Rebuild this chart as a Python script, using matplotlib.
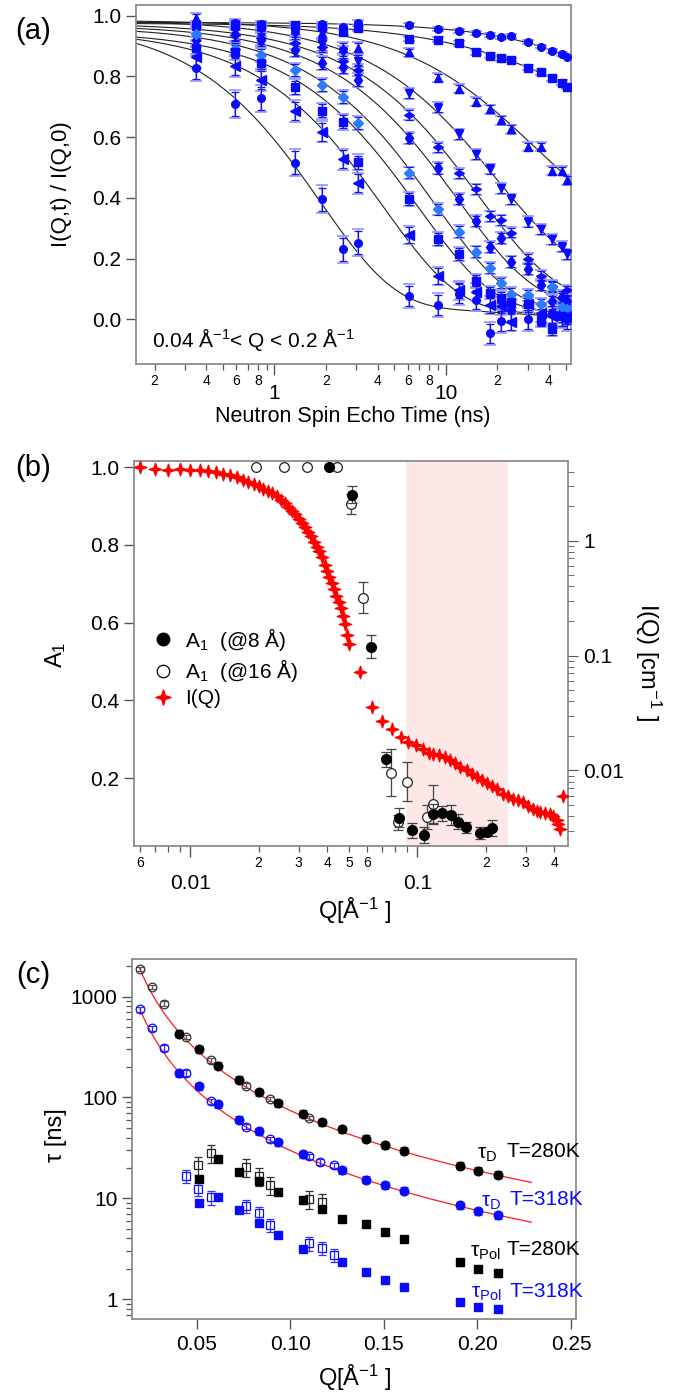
import numpy as np
import matplotlib
matplotlib.use("Agg")
import matplotlib.pyplot as plt
from matplotlib.path import Path
from matplotlib.lines import Line2D
from matplotlib.ticker import FixedLocator, FixedFormatter, FuncFormatter, LogLocator, NullFormatter

plt.rcParams['font.family'] = ['Liberation Sans', 'DejaVu Sans']
plt.rcParams['mathtext.fontset'] = 'custom'
plt.rcParams['mathtext.rm'] = 'Liberation Sans'
plt.rcParams['mathtext.it'] = 'Liberation Sans:italic'
plt.rcParams['mathtext.default'] = 'regular'

# ---------------- (a) NSE intermediate scattering functions ----------------
t_short = [0.35, 0.59, 0.83, 1.31, 1.90, 2.51, 3.09]
t_long = [6.1, 9.06, 12.0, 15.0, 18.1, 21.0, 24.0, 30.1, 35.8, 41.5, 47.9, 50.8]

nan = np.nan
iqt_q1 = [0.975, 0.977, 0.972, 0.970, 0.972, 0.964, 0.977,
          0.969, 0.955, 0.950, 0.942, 0.936, 0.928, 0.932, 0.914, 0.898, 0.884, 0.873, 0.865]
iqt_q2 = [0.965, 0.970, 0.968, 0.969, 0.962, 0.947, 0.958,
          0.923, 0.920, 0.909, 0.879, 0.868, 0.860, 0.854, 0.829, 0.813, 0.794, 0.779, 0.766]
iqt_q3 = [0.991, 0.972, 0.965, 0.955, 0.942, 0.895, 0.895,
          0.879, 0.796, 0.759, 0.717, 0.692, 0.656, 0.626, 0.569, 0.569, 0.489, 0.489, 0.459]
iqt_q4 = [0.950, 0.955, 0.955, 0.940, 0.905, 0.880, 0.851,
          0.744, 0.697, 0.610, 0.543, 0.495, 0.431, 0.396, 0.321, 0.296, 0.263, 0.239, 0.215]
iqt_q5 = [nan, 0.935, 0.925, 0.910, 0.898, 0.850, 0.821,
          0.673, 0.566, 0.481, 0.429, 0.340, 0.327, 0.285, 0.200, 0.143, 0.110, 0.070, 0.095]
iqt_q6 = [0.920, 0.940, 0.920, 0.887, 0.843, 0.832, 0.788,
          0.596, 0.497, 0.396, 0.324, 0.239, 0.267, 0.190, 0.165, 0.113, 0.060, 0.075, 0.060]
iqt_q7 = [0.940, 0.890, 0.870, 0.821, 0.772, 0.733, 0.646,
          0.483, 0.362, 0.289, 0.223, 0.168, 0.119, 0.085, 0.080, 0.050, 0.107, 0.040, 0.035]
iqt_q8 = [0.893, 0.881, 0.845, 0.764, 0.687, 0.651, 0.517,
          0.396, 0.264, 0.215, 0.127, 0.088, 0.071, 0.058, 0.050, -0.002, -0.033, 0.010, 0.005]
iqt_q9 = [0.863, 0.834, 0.788, 0.686, 0.618, 0.527, 0.448,
          0.278, 0.143, 0.095, 0.090, 0.047, 0.045, -0.008, 0.050, 0.020, 0.010, 0.005, 0.010]
iqt_q10 = [0.829, 0.709, 0.728, 0.516, 0.396, 0.231, 0.252,
           0.077, 0.047, 0.085, 0.065, -0.046, -0.006, 0.030, 0.000, 0.015, 0.020, 0.010, 0.000]

iqt_err = [0.006, 0.008, 0.015, 0.018, 0.018, 0.020, 0.020, 0.022, 0.030, 0.038]
err_time_factor = [1.0] * 7 + [0.85] * 12

# two-mode fit: scale * [A exp(-t/tau_slow) + (1-A) exp(-t/tau_fast)]
fit_scale = [0.978, 0.975, 0.985, 0.985, 0.975, 0.970, 0.965, 0.950, 0.955, 0.985]
fit_slow_frac = [1.00, 0.93, 0.54, 0.25, 0.12, 0.09, 0.06, 0.05, 0.04, 0.045]
fit_tau_slow = [420, 300, 206, 150, 112, 88, 69, 57, 48, 30]
fit_tau_fast = [1.0, 15.0, 24.0, 18.0, 15.0, 11.5, 8.5, 6.8, 4.3, 1.85]

# ---------------- (b) amplitudes and SANS intensity ----------------
q_sans = [0.006, 0.007, 0.008, 0.009, 0.010, 0.011, 0.012, 0.013, 0.014, 0.015,
          0.016, 0.017, 0.018, 0.019, 0.020, 0.021, 0.022, 0.023, 0.024, 0.025,
          0.026, 0.027, 0.028, 0.029, 0.030, 0.031, 0.032, 0.033, 0.034, 0.035,
          0.036, 0.037, 0.038, 0.039, 0.040, 0.041, 0.042, 0.043, 0.044, 0.045,
          0.046, 0.047, 0.048, 0.049, 0.050,
          0.0558, 0.0633, 0.0700, 0.0775, 0.0844, 0.0912, 0.0986, 0.1055, 0.1128, 0.1175,
          0.1249, 0.1323, 0.1391, 0.1464, 0.1540, 0.1648, 0.1734, 0.1824, 0.1919, 0.2019,
          0.2124, 0.2235, 0.2388, 0.2513, 0.2644, 0.2781, 0.2926, 0.3078, 0.3238, 0.3350,
          0.3466, 0.3645, 0.3835, 0.3968, 0.4104, 0.4174, 0.425, 0.436]
i_sans = [4.35, 4.18, 4.12, 4.18, 4.12, 4.12, 4.04, 3.94, 3.84, 3.72,
          3.55, 3.40, 3.24, 3.12, 3.00, 2.84, 2.71, 2.60, 2.46, 2.28,
          2.14, 1.98, 1.83, 1.70, 1.56, 1.43, 1.32, 1.20, 1.09, 0.98,
          0.89, 0.81, 0.72, 0.62, 0.545, 0.48, 0.43, 0.38, 0.33, 0.29,
          0.26, 0.22, 0.19, 0.15, 0.126,
          0.0718, 0.0356, 0.0272, 0.0229, 0.0194, 0.0178, 0.0165, 0.0153, 0.0143, 0.0140,
          0.0137, 0.0131, 0.0124, 0.0117, 0.0108, 0.0100, 0.00935, 0.00876, 0.0083, 0.00776,
          0.00726, 0.00689, 0.00627, 0.00594, 0.00564, 0.00556, 0.00527, 0.00493, 0.00461, 0.0044,
          0.00431, 0.00426, 0.0042, 0.00398, 0.00372, 0.00344, 0.0031, 0.00594]

q_a1_8 = [0.0407, 0.0514, 0.0623, 0.0725, 0.0832, 0.0944, 0.107, 0.1175, 0.1287,
          0.1406, 0.1514, 0.1632, 0.1886, 0.2019, 0.2137]
a1_8 = [1.0, 0.929, 0.538, 0.248, 0.098, 0.065, 0.054, 0.108, 0.109,
        0.105, 0.088, 0.073, 0.058, 0.062, 0.071]
a1_8_err = [0.0, 0.022, 0.03, 0.02, 0.025, 0.02, 0.02, 0.025, 0.02,
            0.025, 0.02, 0.015, 0.015, 0.012, 0.02]
q_a1_16 = [0.0195, 0.0259, 0.0326, 0.0442, 0.0510, 0.0574, 0.0763, 0.0823, 0.0897, 0.1105, 0.1175]
a1_16 = [1.0, 1.0, 1.0, 1.0, 0.9055, 0.664, 0.214, 0.086, 0.191, 0.100, 0.1325]
a1_16_err = [0.0, 0.0, 0.0, 0.0, 0.025, 0.04, 0.06, 0.02, 0.05, 0.03, 0.05]

band_q = [0.0891, 0.2497]

# ---------------- (c) relaxation times ----------------
q_d16 = [0.0195, 0.026, 0.0325, 0.0442, 0.0574, 0.0761, 0.089, 0.1102]
tau_d16_280 = [1884, 1248, 853, 396, 233, 131, 97, 62.2]
q_d16_318 = [0.0195, 0.026, 0.0325, 0.0442, 0.0574, 0.0761, 0.089, 0.1102, 0.116, 0.1231]
tau_d16_318 = [751, 483, 310, 175, 91.6, 51.4, 38.4, 26.2, 22.9, 21.2]

q_d8 = [0.0403, 0.0509, 0.0615, 0.0724, 0.083, 0.0934, 0.1065, 0.1167, 0.1277,
        0.1404, 0.1508, 0.161, 0.1905, 0.2004, 0.2108]
tau_d8_280 = [429, 300, 206, 150, 112, 88, 69, 57, 48.3, 39, 33.8, 29.6, 21.0, 18.8, 17.1]
q_d8_318 = [0.0403, 0.0509, 0.0615, 0.0724, 0.083, 0.0934, 0.1065, 0.1277,
            0.1404, 0.1508, 0.161, 0.1905, 0.2004, 0.2108]
tau_d8_318 = [175, 130, 86, 60.3, 46.4, 36.1, 27.3, 19.1, 15.3, 13.4, 11.9, 8.54, 7.4, 6.84]

q_pol16_280 = [0.0505, 0.0574, 0.0763, 0.083, 0.089, 0.1102, 0.1167]
tau_pol16_280 = [21.2, 28.0, 20.4, 16.5, 13.4, 9.77, 9.25]
q_pol16_318 = [0.0442, 0.0505, 0.0574, 0.0763, 0.083, 0.089, 0.1102, 0.1167, 0.1231]
tau_pol16_318 = [16.6, 12.4, 10.2, 8.34, 7.11, 5.39, 3.57, 3.23, 2.75]

q_pol8_280 = [0.0509, 0.0615, 0.0724, 0.083, 0.0934, 0.1065, 0.1167, 0.1277,
              0.1404, 0.1508, 0.161, 0.1905, 0.2004, 0.2108]
tau_pol8_280 = [15.7, 24.7, 18.4, 14.9, 11.6, 9.53, 7.88, 6.22, 5.61, 4.68, 3.99, 2.31, 1.98, 1.80]
q_pol8_318 = [0.0509, 0.0615, 0.0724, 0.083, 0.0934, 0.1065, 0.1277,
              0.1404, 0.1508, 0.161, 0.1905, 0.2004, 0.2108]
tau_pol8_318 = [9.02, 10.2, 7.59, 5.71, 4.33, 3.15, 2.35, 1.85, 1.55, 1.32, 0.946, 0.84, 0.794]

# power-law fits tau = tau_ref * (Q / q_ref)^(-exponent)
fit_q_ref = 0.0195
fit_tau_ref = [1884, 751]
fit_exponent = [1.98, 1.975]
fit_q_range = [0.0195, 0.2288]

# ---------------- styling helpers ----------------
W, H = 678, 1396
BLUE = '#0a0aff'
LBLUE = '#2a7bff'
FRAME = '#8c8c8c'
TICK = '#555555'


def box(l, t, r, b):
    return [l / W, 1 - b / H, (r - l) / W, (b - t) / H]


def style_frame(ax):
    for s in ax.spines.values():
        s.set_color(FRAME)
        s.set_linewidth(1.3)
    ax.tick_params(which='both', direction='out', color=TICK, top=False, right=False)
    ax.tick_params(which='major', length=7, width=1.0, labelsize=15)
    ax.tick_params(which='minor', length=4, width=0.9, labelsize=10)


star4 = Path([(0, 1), (0.24, 0.24), (1, 0), (0.24, -0.24), (0, -1), (-0.24, -0.24),
              (-1, 0), (-0.24, 0.24), (0, 1)],
             [Path.MOVETO] + [Path.LINETO] * 7 + [Path.CLOSEPOLY])
hdiamond = Path([(-1, 0), (0, 0.62), (1, 0), (0, -0.62), (-1, 0)],
                [Path.MOVETO, Path.LINETO, Path.LINETO, Path.LINETO, Path.CLOSEPOLY])

fig = plt.figure(figsize=(6.78, 13.96), dpi=100)

# ======================= panel (a) =======================
ax = fig.add_axes(box(135.7, 5, 571, 364.3))
style_frame(ax)
ax.set_xscale('log')
ax.set_xlim(0.155, 53.8)
ax.set_ylim(-0.148, 1.035)

t_all = np.array(t_short + t_long)
t_fit = np.logspace(np.log10(0.155), np.log10(53.8), 400)
curves = [iqt_q1, iqt_q2, iqt_q3, iqt_q4, iqt_q5, iqt_q6, iqt_q7, iqt_q8, iqt_q9, iqt_q10]
markers = ['o', 's', '^', 'v', hdiamond, 'd', 'D', 's', '<', 'o']
msizes = [5.5, 5.2, 6.0, 6.0, 7.0, 6.5, 5.5, 5.2, 6.5, 5.5]
colors = [BLUE, BLUE, BLUE, BLUE, BLUE, BLUE, LBLUE, BLUE, BLUE, BLUE]

for k in range(10):
    S, A = fit_scale[k], fit_slow_frac[k]
    f = S * (A * np.exp(-t_fit / fit_tau_slow[k]) + (1 - A) * np.exp(-t_fit / fit_tau_fast[k]))
    ax.plot(t_fit, f, color='#222222', lw=0.8, zorder=2)

for k in range(10):
    y = np.array(curves[k], dtype=float)
    e = iqt_err[k] * np.array(err_time_factor)
    ax.errorbar(t_all, y, yerr=e * 1.18, fmt='none', ecolor='#9c9cff', elinewidth=1.3,
                capsize=4.2, capthick=1.3, zorder=3)
    ax.errorbar(t_all, y, yerr=e, fmt='none', ecolor='#1515e8', elinewidth=0.9,
                capsize=3.2, capthick=0.9, zorder=4)
    ax.plot(t_all, y, linestyle='none', marker=markers[k], ms=msizes[k],
            color=colors[k], mec=colors[k], zorder=5)

ax.xaxis.set_major_locator(FixedLocator([1, 10]))
ax.xaxis.set_major_formatter(FixedFormatter(['1', '10']))
minor_a = [0.2, 0.3, 0.4, 0.5, 0.6, 0.7, 0.8, 0.9, 2, 3, 4, 5, 6, 7, 8, 9, 20, 30, 40, 50]
lab_a = {0.2: '2', 0.4: '4', 0.6: '6', 0.8: '8', 2: '2', 4: '4', 6: '6', 8: '8', 20: '2', 40: '4'}
ax.xaxis.set_minor_locator(FixedLocator(minor_a))
ax.xaxis.set_minor_formatter(FuncFormatter(lambda v, p: lab_a.get(round(v, 3), '')))
ax.tick_params(axis='x', which='major', pad=6, length=8)
ax.tick_params(axis='x', which='minor', pad=3)
ax.set_yticks([0.0, 0.2, 0.4, 0.6, 0.8, 1.0])
ax.yaxis.set_major_formatter(FuncFormatter(lambda v, p: f'{v:.1f}'))
ax.text(0.037, 0.068, '0.04 Å$^{-1}$< Q < 0.2 Å$^{-1}$', transform=ax.transAxes,
        fontsize=15, va='center', ha='left')

fig.text(353 / W, 1 - 416 / H, 'Neutron Spin Echo Time (ns)', fontsize=15.5, ha='center', va='center')
fig.text(61 / W, 1 - 184 / H, 'I(Q,t) / I(Q,0)', fontsize=16, rotation=90, ha='center', va='center')
fig.text(33 / W, 1 - 31 / H, '(a)', fontsize=21, ha='center', va='center')

# ======================= panel (b) =======================
axb = fig.add_axes(box(134, 460.7, 568.3, 846))
style_frame(axb)
axb.set_xscale('log')
axb.set_xlim(0.00565, 0.4618)
axb.set_ylim(0.025, 1.017)
axb.axvspan(band_q[0], band_q[1], color='#fde8e8', lw=0, zorder=0)

axb.errorbar(q_a1_16, a1_16, yerr=a1_16_err, fmt='o', ms=7, mfc='white', mec='#222222',
             mew=0.9, ecolor='#444444', elinewidth=0.9, capsize=3.5, capthick=0.9, zorder=4)
axb.errorbar(q_a1_8, a1_8, yerr=a1_8_err, fmt='o', ms=7, mfc='black', mec='black',
             ecolor='#444444', elinewidth=0.9, capsize=3.5, capthick=0.9, zorder=5)
axb.set_yticks([0.2, 0.4, 0.6, 0.8, 1.0])
axb.yaxis.set_major_formatter(FuncFormatter(lambda v, p: f'{v:.1f}'))

axb.xaxis.set_major_locator(FixedLocator([0.01, 0.1]))
axb.xaxis.set_major_formatter(FixedFormatter(['0.01', '0.1']))
minor_b = [0.006, 0.007, 0.008, 0.009, 0.02, 0.03, 0.04, 0.05, 0.06, 0.07, 0.08, 0.09,
           0.2, 0.3, 0.4]
lab_b = {0.006: '6', 0.02: '2', 0.03: '3', 0.04: '4', 0.05: '5', 0.06: '6',
         0.2: '2', 0.3: '3', 0.4: '4'}
axb.xaxis.set_minor_locator(FixedLocator(minor_b))
axb.xaxis.set_minor_formatter(FuncFormatter(lambda v, p: lab_b.get(round(v, 4), '')))
axb.tick_params(axis='x', which='major', pad=12, length=8)
axb.tick_params(axis='x', which='minor', pad=3)

axr = axb.twinx()
axr.set_yscale('log')
axr.set_ylim(0.0022, 4.97)
for s in axr.spines.values():
    s.set_visible(False)
axr.tick_params(which='both', direction='out', color=TICK, left=False, right=True)
axr.tick_params(which='major', length=7, labelsize=15)
axr.tick_params(which='minor', length=4)
axr.yaxis.set_major_locator(FixedLocator([0.01, 0.1, 1]))
axr.yaxis.set_major_formatter(FixedFormatter(['0.01', '0.1', '1']))
axr.yaxis.set_minor_locator(LogLocator(base=10, subs=np.arange(2, 10)))
axr.yaxis.set_minor_formatter(NullFormatter())
axr.plot(q_sans, i_sans, linestyle='none', marker=star4, ms=9, color='#ff0000', zorder=3)

handles = [Line2D([], [], ls='none', marker='o', ms=9, color='black'),
           Line2D([], [], ls='none', marker='o', ms=9, mfc='white', mec='black', mew=0.9),
           Line2D([], [], ls='none', marker=star4, ms=11, color='#ff0000')]
labels = ['A$_1$  (@8 Å)', 'A$_1$  (@16 Å)', 'I(Q)']
axb.legend(handles, labels, loc='center left', bbox_to_anchor=(0.0, 0.465), frameon=False,
           fontsize=15, handlelength=1.4, handletextpad=0.35, labelspacing=0.22,
           borderaxespad=0.3)

fig.text(355 / W, 1 - 911 / H, 'Q[Å$^{-1}$ ]', fontsize=17, ha='center', va='center')
fig.text(56 / W, 1 - 655 / H, 'A$_1$', fontsize=17, rotation=90, ha='center', va='center')
fig.text(648 / W, 1 - 662 / H, 'I(Q) [cm$^{-1}$ ]', fontsize=17, rotation=270,
         ha='center', va='center')
fig.text(33 / W, 1 - 468 / H, '(b)', fontsize=21, ha='center', va='center')

# ======================= panel (c) =======================
axc = fig.add_axes(box(132.3, 959.3, 576, 1318.7))
style_frame(axc)
axc.set_yscale('log')
axc.set_xlim(0.0155, 0.2527)
axc.set_ylim(0.64, 2340)

q_fit = np.linspace(fit_q_range[0], fit_q_range[1], 300)
for k in range(2):
    axc.plot(q_fit, fit_tau_ref[k] * (q_fit / fit_q_ref) ** (-fit_exponent[k]),
             color='#ff1a1a', lw=0.9, zorder=2)


def tau_series(q, tau, rel, col, ecol, marker, filled, ms):
    tau = np.array(tau)
    kw = dict(mfc=col, mec=col) if filled else dict(mfc='none', mec=col, mew=0.9)
    axc.errorbar(q, tau, yerr=rel * tau, fmt=marker, ms=ms, ecolor=ecol, elinewidth=0.9,
                 capsize=3.2, capthick=0.9, zorder=4, **kw)


tau_series(q_d16, tau_d16_280, 0.05, '#333333', '#555555', 'o', False, 6.2)
tau_series(q_d8, tau_d8_280, 0.08, 'black', '#555555', 'o', True, 6.2)
tau_series(q_d16_318, tau_d16_318, 0.06, BLUE, '#3030ff', 'o', False, 6.2)
tau_series(q_d8_318, tau_d8_318, 0.08, BLUE, '#3030ff', 'o', True, 6.2)
tau_series(q_pol16_280, tau_pol16_280, 0.2, '#222222', '#333333', 's', False, 5.6)
tau_series(q_pol8_280, tau_pol8_280, 0.07, 'black', '#555555', 's', True, 5.6)
tau_series(q_pol16_318, tau_pol16_318, 0.15, BLUE, '#3030ff', 's', False, 5.6)
tau_series(q_pol8_318, tau_pol8_318, 0.05, BLUE, '#3030ff', 's', True, 5.6)

axc.set_xticks([0.05, 0.10, 0.15, 0.20, 0.25])
axc.xaxis.set_major_formatter(FuncFormatter(lambda v, p: f'{v:.2f}'))
axc.yaxis.set_major_locator(FixedLocator([1, 10, 100, 1000]))
axc.yaxis.set_major_formatter(FixedFormatter(['1', '10', '100', '1000']))
axc.yaxis.set_minor_locator(LogLocator(base=10, subs=np.arange(2, 10)))
axc.yaxis.set_minor_formatter(NullFormatter())
axc.tick_params(axis='x', which='major', pad=5)

for sym, temp, qx, qt, ty, col in [('τ$_D$', 'T=280K', 0.205, 0.2157, 29, 'black'),
                                    ('τ$_D$', 'T=318K', 0.2071, 0.2171, 9.7, BLUE),
                                    ('τ$_{Pol}$', 'T=280K', 0.2044, 0.2157, 3.1, 'black'),
                                    ('τ$_{Pol}$', 'T=318K', 0.2049, 0.2174, 1.2, BLUE)]:
    axc.text(qx, ty * 0.94, sym, color=col, fontsize=15, ha='center', va='center')
    axc.text(qt, ty, temp, color=col, fontsize=15, ha='left', va='center')

fig.text(355 / W, 1 - 1378 / H, 'Q[Å$^{-1}$ ]', fontsize=17, ha='center', va='center')
fig.text(56 / W, 1 - 1135 / H, 'τ [ns]', fontsize=17, rotation=90, ha='center', va='center')
fig.text(33 / W, 1 - 975 / H, '(c)', fontsize=21, ha='center', va='center')

fig.savefig('out.png', dpi=100)
